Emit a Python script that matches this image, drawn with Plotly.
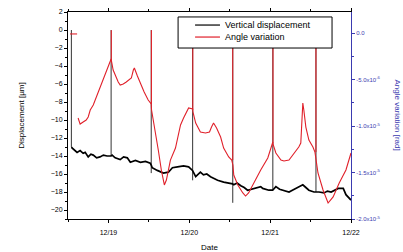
import pandas as pd
import plotly.graph_objects as go

# hours since 2020-12-18 12:00
disp_hours = [1.1, 1.2, 2.7, 3.6, 4.5, 5.1, 6.0, 6.8, 7.5, 8.5, 9.5, 10.5, 11.6, 12.8, 13.1, 14.0, 15.5, 16.5,
              17.6, 18.5, 20.0, 21.5, 23.0, 24.4, 24.7, 25.0, 26.5, 28.3, 29.8, 31.0, 32.5, 34.3, 35.8, 36.95,
              37.9, 39.3, 40.2, 41.2, 42.3, 44.4, 46.2, 48.3, 48.85, 49.2, 50.2, 51.3, 52.3, 53.3, 55.1, 57.2,
              57.8, 59.6, 60.75, 61.7, 62.8, 63.8, 65.6, 66.6, 67.6, 69.7, 70.6, 71.5, 73.0, 73.55, 74.5, 76.0,
              77.0, 78.1, 80.2, 81.7, 82.5, 84.0]
disp_um = [-13.0, -13.1, -13.6, -13.4, -13.7, -13.6, -14.1, -13.8, -13.9, -14.2, -14.1, -13.9, -14.0, -14.0,
           -13.9, -14.2, -14.4, -14.1, -14.2, -14.7, -14.5, -14.7, -14.6, -14.8, -15.0, -15.3, -15.6, -15.9,
           -15.8, -15.3, -15.2, -15.1, -15.2, -15.6, -16.3, -15.8, -16.1, -16.0, -16.3, -16.7, -16.9, -17.0,
           -17.1, -17.2, -17.0, -17.3, -17.5, -17.8, -17.6, -17.4, -17.6, -17.8, -17.8, -17.4, -17.7, -17.8,
           -18.0, -17.8, -17.6, -17.2, -17.5, -17.8, -18.0, -18.0, -18.0, -18.1, -17.9, -18.0, -17.6, -17.6,
           -18.3, -18.9]

# displacement spikes: time, top and bottom of each vertical jump
disp_spike_hours = [1.0, 12.8, 24.7, 37.0, 48.9, 60.8, 73.6]
disp_spike_top = [0.0, 0.0, 0.0, 0.0, 0.0, 0.0, 0.0]
disp_spike_bottom = [-13.0, -14.0, -15.9, -16.7, -19.2, -17.8, -18.0]

angle_hours = [0.6, 2.7, 2.8, 3.0, 3.6, 4.5, 5.4, 6.0, 6.6, 7.5, 8.3, 9.2, 10.1, 11.0, 11.9, 12.5, 12.8,
               13.4, 14.3, 14.9, 15.5, 16.4, 17.3, 18.2, 18.8, 19.4, 19.7, 20.6, 21.5, 22.6, 23.8, 24.7,
               24.8, 25.9, 26.8, 27.7, 28.6, 29.2, 30.4, 31.9, 33.4, 34.3, 35.8, 37.0, 37.1, 37.9,
               38.7, 39.3, 40.8, 42.0, 42.6, 43.2, 44.1, 45.3, 46.2, 47.1, 47.7, 48.6, 48.95, 49.2, 50.4,
               51.9, 52.7, 53.6, 55.1, 57.2, 59.3, 60.8, 60.9, 61.7, 63.2, 64.1, 65.6, 66.8, 68.5, 69.1,
               69.4, 69.7, 70.0, 70.6, 71.5, 72.7, 73.3, 73.65, 74.2, 75.7, 77.2, 78.7, 80.5, 82.5, 84.0]
angle_e6 = [-0.1, -0.1, None, -9.14, -9.79, -9.57, -9.36, -9.03, -8.28, -7.74, -6.99, -6.34, -5.48, -4.62, -3.76,
            -3.12, -2.80, -3.98, -4.84, -5.27, -5.59, -5.48, -5.27, -5.05, -4.84, -3.98, -3.76, -4.62,
            -5.48, -6.34, -7.20, -7.63, -8.28, -10.43, -12.58, -14.73, -16.34, -15.81, -13.66, -12.37, -9.89,
            -9.14, -8.06, -8.17, -8.5, -9.68, -10.22, -10.65, -10.75, -10.65, -10.11, -9.68, -10.22, -11.18,
            -12.37, -12.90, -13.33, -13.66, -14.2, -15.27, -16.34, -17.20, -17.53, -17.20, -16.13, -14.73,
            -13.44, -11.72, -12.0, -12.90, -13.66, -13.76, -13.66, -13.12, -12.26, -11.83, -9.89, -7.53,
            -8.28, -10.11, -11.51, -12.26, -12.80, -13.5, -15.05, -16.88, -18.28, -17.63, -16.13, -14.73,
            -12.90]

# angle spikes: time, top and bottom (in 1e-6 rad)
angle_spike_hours = [12.85, 24.75, 37.05, 48.9, 60.85, 73.6]
angle_spike_top = [0.3, 0.3, 0.3, 0.3, 0.3, 0.3]
angle_spike_bottom = [-2.9, -7.63, -8.3, -13.66, -11.8, -12.8]

y2_tickvals = [0, -5, -10, -15, -20]
y2_ticktext = ["0.0", "-5.0x10<sup>-6</sup>", "-1.0x10<sup>-5</sup>", "-1.5x10<sup>-5</sup>", "-2.0x10<sup>-5</sup>"]

base = pd.Timestamp("2020-12-18 12:00")
def to_t(hours):
    return [base + pd.Timedelta(hours=h) for h in hours]

def spike_xy(hours, tops, bottoms):
    xs, ys = [], []
    for h, a, b in zip(hours, tops, bottoms):
        t = base + pd.Timedelta(hours=h)
        xs += [t, t, None]
        ys += [a, b, None]
    return xs, ys

FONT = "Liberation Sans, Arial, sans-serif"
BLUE = "#3b3bb0"
RED = "#e0202a"

fig = go.Figure()
sx, sy = spike_xy(disp_spike_hours, disp_spike_top, disp_spike_bottom)
fig.add_trace(go.Scatter(x=sx, y=sy, mode="lines", showlegend=False, hoverinfo="skip",
                         line=dict(color="#333333", width=1)))
fig.add_trace(go.Scatter(x=to_t(disp_hours), y=disp_um, mode="lines", name="Vertical displacement",
                         line=dict(color="black", width=1.7)))
ax, ay = spike_xy(angle_spike_hours, angle_spike_top, angle_spike_bottom)
fig.add_trace(go.Scatter(x=ax, y=ay, mode="lines", showlegend=False, hoverinfo="skip", yaxis="y2",
                         line=dict(color="#ee1c24", width=1)))
fig.add_trace(go.Scatter(x=to_t(angle_hours), y=angle_e6, mode="lines", name="Angle variation", yaxis="y2",
                         line=dict(color=RED, width=1.1), connectgaps=False))

# hand-drawn legend box (paper coords)
lx0, lx1, ly0, ly1 = 0.389, 0.933, 0.826, 0.976
shapes = [
    dict(type="rect", xref="paper", yref="paper", x0=lx0, x1=lx1, y0=ly0, y1=ly1,
         fillcolor="white", line=dict(color="black", width=1), layer="above"),
    dict(type="line", xref="paper", yref="paper", x0=0.449, x1=0.537, y0=0.937, y1=0.937,
         line=dict(color="black", width=1.2), layer="above"),
    dict(type="line", xref="paper", yref="paper", x0=0.449, x1=0.537, y0=0.879, y1=0.879,
         line=dict(color=RED, width=1.2), layer="above"),
]
names = ["Vertical displacement", "Angle variation"]
annotations = [
    dict(text=names[0], xref="paper", yref="paper", x=0.548, y=0.937, xanchor="left", yanchor="middle",
         showarrow=False, font=dict(size=9, family=FONT)),
    dict(text=names[1], xref="paper", yref="paper", x=0.548, y=0.879, xanchor="left", yanchor="middle",
         showarrow=False, font=dict(size=9, family=FONT)),
    dict(text="Angle variation [rad]", xref="paper", yref="paper", x=1.166, y=0.5, xanchor="center",
         yanchor="middle", textangle=90, showarrow=False, font=dict(size=8, color=BLUE, family=FONT)),
]

fig.update_layout(
    width=403, height=252,
    margin=dict(l=68, r=52, t=12, b=33),
    paper_bgcolor="white", plot_bgcolor="white",
    font=dict(family=FONT, size=7, color="black"),
    showlegend=False,
    shapes=shapes, annotations=annotations,
    xaxis=dict(type="date", range=["2020-12-18 12:00", "2020-12-22 00:00"], automargin=False,
               tick0="2020-12-19", dtick=86400000, tickformat="%m/%d",
               ticks="outside", ticklen=3, tickcolor="black", showline=True, linecolor="black",
               linewidth=1, mirror="ticks", showgrid=False, zeroline=False, ticklabelstandoff=4,
               minor=dict(dtick=43200000, ticks="outside", ticklen=2, tickcolor="black"),
               title=dict(text="Date", font=dict(size=8, family=FONT), standoff=9),
               tickfont=dict(size=7)),
    yaxis=dict(range=[-21, 2], dtick=2, tick0=0, ticks="outside", ticklen=3, tickcolor="black",
               showline=True, linecolor="black", linewidth=1, showgrid=False, zeroline=False,
               automargin=False,
               minor=dict(dtick=1, ticks="outside", ticklen=2, tickcolor="black"),
               title=dict(text="Displacement [µm]", font=dict(size=8, family=FONT), standoff=24),
               tickfont=dict(size=7)),
    yaxis2=dict(overlaying="y", side="right", range=[-20, 2.26], tickmode="array", automargin=False,
                tickvals=y2_tickvals, ticktext=y2_ticktext, ticks="outside", ticklen=3,
                tickcolor=BLUE, showline=True, linecolor=BLUE, linewidth=1, showgrid=False,
                zeroline=False, tickfont=dict(size=6, color=BLUE),
                minor=dict(tickmode="linear", tick0=0, dtick=2.5, ticks="outside", ticklen=2,
                           tickcolor=BLUE)),
)

fig.write_html("out.html", config={"displayModeBar": False},
               post_script="document.body.style.margin='0px';")
